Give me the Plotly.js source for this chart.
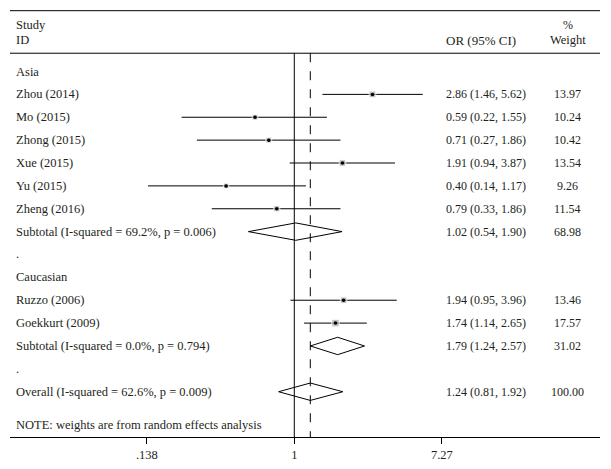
<!DOCTYPE html>
<html>
<head>
<meta charset="utf-8">
<script src="https://cdn.plot.ly/plotly-3.0.1.min.js"></script>
<style>html,body{margin:0;padding:0;background:#fff;}#chart{width:611px;height:469px;}</style>
</head>
<body>
<div id="chart"></div>
<script>
// ---------- data ----------
const studyLabels = ['Zhou (2014)','Mo (2015)','Zhong (2015)','Xue (2015)','Yu (2015)','Zheng (2016)','Ruzzo (2006)','Goekkurt (2009)'];
const studyRows   = [1,2,3,4,5,6,10,11];
const studyOR     = [2.86,0.59,0.71,1.91,0.40,0.79,1.94,1.74];
const studyLo     = [1.46,0.22,0.27,0.94,0.14,0.33,0.95,1.14];
const studyHi     = [5.62,1.55,1.86,3.87,1.17,1.86,3.96,2.65];
const studyWeight = ['13.97','10.24','10.42','13.54','9.26','11.54','13.46','17.57'];

const summaryLabels = ['Subtotal (I-squared = 69.2%, p = 0.006)','Subtotal (I-squared = 0.0%, p = 0.794)','Overall (I-squared = 62.6%, p = 0.009)'];
const summaryRows   = [7,12,14];
const summaryOR     = [1.02,1.79,1.24];
const summaryLo     = [0.54,1.24,0.81];
const summaryHi     = [1.90,2.57,1.92];
const summaryWeight = ['68.98','31.02','100.00'];

const groupLabels = ['Asia','Caucasian'];
const groupRows   = [0,9];
const spacerRows  = [8,13];

const tickVals = [0.138,1,7.27];
const tickText = ['.138','1','7.27'];
const overallOR = 1.24;

// ---------- styling ----------
const FONT = 'Liberation Serif, Times New Roman, serif';
const FS_LABEL = 12.5;
const FS_NUM = 12.0;
const TXT = '#231f20';
const xLeft = 0.0068, xOR = 0.7355, xW = 0.945;
const fmt = v => v.toFixed(2);

const traces = [];
// CI lines
const cx = [], cy = [];
studyRows.forEach((r,i)=>{ cx.push(studyLo[i], studyHi[i], null); cy.push(r, r, null); });
traces.push({x:cx, y:cy, mode:'lines', line:{color:'#000', width:1}, hoverinfo:'skip', showlegend:false});
// weighted boxes
traces.push({x:studyOR, y:studyRows, mode:'markers', showlegend:false, hoverinfo:'skip',
  marker:{symbol:'square', color:'#a8a8a8', size:studyWeight.map(w=>1.8*Math.sqrt(parseFloat(w)))}});
// point estimates
traces.push({x:studyOR, y:studyRows, mode:'markers', showlegend:false, hoverinfo:'skip',
  marker:{symbol:'circle', color:'#000', size:3.5}});
// diamonds
const dh = 0.38;
summaryRows.forEach((r,i)=>{
  traces.push({x:[summaryLo[i], summaryOR[i], summaryHi[i], summaryOR[i], summaryLo[i]],
               y:[r, r-dh, r, r+dh, r], mode:'lines', fill:'toself', fillcolor:'#fff',
               line:{color:'#000', width:1}, hoverinfo:'skip', showlegend:false});
});

const ann = [];
const addText = (x, y, text, align, fs) => ann.push({xref:'paper', yref:'y', x:x, y:y, text:text, showarrow:false,
  xanchor:align, yanchor:'middle', font:{family:FONT, size:fs, color:TXT}});
addText(xLeft, -2.04, 'Study', 'left', FS_LABEL);
addText(xLeft, -1.36, 'ID', 'left', FS_LABEL);
addText(xOR, -1.36, 'OR (95% CI)', 'left', 13);
addText(xW, -2.04, '%', 'center', FS_NUM);
addText(xW, -1.36, 'Weight', 'center', FS_LABEL);
groupLabels.forEach((g,i)=>addText(xLeft, groupRows[i], g, 'left', FS_LABEL));
spacerRows.forEach(r=>addText(xLeft, r, '.', 'left', FS_LABEL));
studyLabels.forEach((s,i)=>{
  addText(xLeft, studyRows[i], s, 'left', FS_LABEL);
  addText(xOR, studyRows[i], fmt(studyOR[i])+' ('+fmt(studyLo[i])+', '+fmt(studyHi[i])+')', 'left', FS_NUM);
  addText(xW, studyRows[i], studyWeight[i], 'center', FS_NUM);
});
summaryLabels.forEach((s,i)=>{
  addText(xLeft, summaryRows[i], s, 'left', FS_LABEL);
  addText(xOR, summaryRows[i], fmt(summaryOR[i])+' ('+fmt(summaryLo[i])+', '+fmt(summaryHi[i])+')', 'left', FS_NUM);
  addText(xW, summaryRows[i], summaryWeight[i], 'center', FS_NUM);
});
addText(xLeft, 15.45, 'NOTE: weights are from random effects analysis', 'left', FS_LABEL);

const yTop = -2.66, yBot = 15.98, yHead = -0.8;
const shapes = [
  {type:'line', xref:'paper', yref:'y', x0:0, x1:1, y0:yTop, y1:yTop, line:{color:'#000', width:1}},
  {type:'line', xref:'paper', yref:'y', x0:0, x1:1, y0:yHead, y1:yHead, line:{color:'#000', width:1}},
  {type:'line', xref:'x', yref:'y', x0:1, x1:1, y0:yHead, y1:yBot, line:{color:'#000', width:1}},
  {type:'line', xref:'x', yref:'y', x0:overallOR, x1:overallOR, y0:yHead, y1:yBot, line:{color:'#000', width:1, dash:'dash'}}
];

const layout = {
  width:611, height:469,
  margin:{l:10, r:11, t:10, b:32},
  paper_bgcolor:'#fff', plot_bgcolor:'#fff',
  showlegend:false,
  xaxis:{type:'log', range:[-1.659, 1.784], showgrid:false, zeroline:false, showline:true, linecolor:'#000', linewidth:1,
    ticks:'outside', ticklen:6, tickcolor:'#000', tickvals:tickVals, ticktext:tickText,
    tickfont:{family:FONT, size:FS_LABEL, color:TXT}, fixedrange:true},
  yaxis:{range:[yBot, -2.69], showgrid:false, zeroline:false, showline:false, showticklabels:false, ticks:'', fixedrange:true},
  annotations:ann, shapes:shapes
};
Plotly.newPlot('chart', traces, layout, {displayModeBar:false, staticPlot:true});
</script>
</body>
</html>
